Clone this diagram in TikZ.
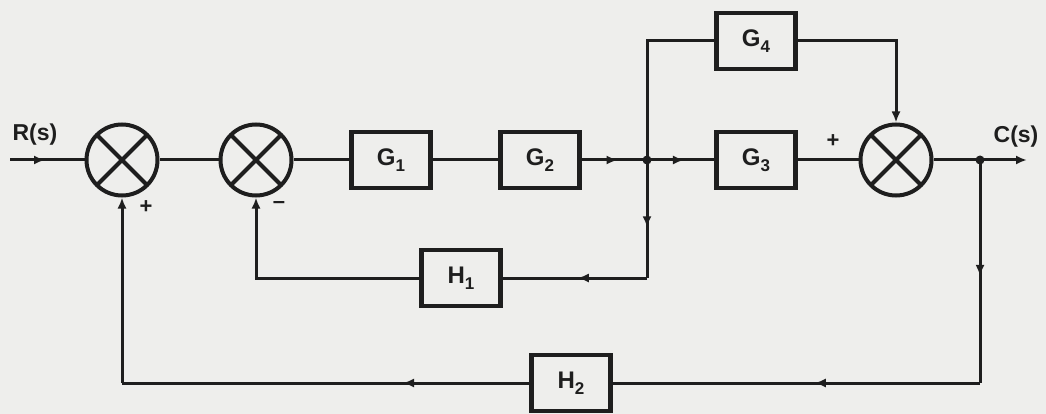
\documentclass[tikz,border=0pt]{standalone}
\usepackage{fontspec}
\setmainfont{Liberation Sans}
\usetikzlibrary{arrows.meta,decorations.markings,calc}
\definecolor{ink}{RGB}{30,30,30}
\definecolor{paper}{RGB}{238,238,236}
\newcommand\blab[2]{#1\raisebox{-6pt}{\fontsize{17}{17}\selectfont #2}}
\begin{document}
\begin{tikzpicture}[x=1pt,y=-1pt,
  every node/.style={text=ink},
  conn/.style={draw=ink,line width=3pt},
  blk/.style={draw=ink,line width=4.5pt,minimum width=79pt,minimum height=56pt,inner sep=0pt,font=\fontsize{24}{24}\selectfont\bfseries},
  sumnode/.style={circle,draw=ink,line width=4pt,minimum size=71pt,inner sep=0pt,
    path picture={\draw[ink,line width=4pt] (path picture bounding box.north west) -- (path picture bounding box.south east)
      (path picture bounding box.north east) -- (path picture bounding box.south west);}},
  jdot/.style={circle,fill=ink,inner sep=0pt,minimum size=9pt},
  tipend/.style={-{Latex[length=11pt,width=9pt]}},
  midarrow/.style={postaction={decorate},decoration={markings,mark=at position #1 with {\arrow{Latex[length=11pt,width=9pt]}}}},
  sig/.style={font=\fontsize{23}{23}\selectfont\bfseries},
  sgn/.style={font=\fontsize{22}{22}\selectfont\bfseries}
]
\fill[paper] (0,0) rectangle (1046,414);
\useasboundingbox (0,0) rectangle (1046,414);

% summing junctions
\node[sumnode] (S1) at (122,160) {};
\node[sumnode] (S2) at (256,160) {};
\node[sumnode] (S3) at (896,160) {};

% blocks
\node[blk] (G1) at (391,160) {\blab{G}{1}};
\node[blk] (G2) at (540,160) {\blab{G}{2}};
\node[blk] (G3) at (756,160) {\blab{G}{3}};
\node[blk] (G4) at (756,41) {\blab{G}{4}};
\node[blk] (H1) at (461,278) {\blab{H}{1}};
\node[blk] (H2) at (571,383) {\blab{H}{2}};

% junction points
\node[jdot] (J1) at (647,160) {};
\node[jdot] (J2) at (980,160) {};

% free ends and corners
\coordinate (Rin) at (10,160);
\coordinate (Cout) at (1027,160);
\coordinate (c1) at (980,383);
\coordinate (c2) at (122,383);
\coordinate (c3) at (647,278);
\coordinate (c4) at (256,278);
\coordinate (c5) at (647,41);
\coordinate (c6) at (896,41);

% labels
\node[sig] (Rl) at (35,135) {R(s)};
\node[sig] (Cl) at (1016,137) {C(s)};
\node[sgn] (p1) at (146,207) {+};
\node[sgn] (m2) at (279,205) {\textendash};
\node[sgn] (p3) at (833,141) {+};

% forward path
\draw[conn,midarrow=0.47] (Rin) -- (S1.west);
\draw[conn] (S1.east) -- (S2.west);
\draw[conn] (S2.east) -- (G1.west);
\draw[conn] (G1.east) -- (G2.west);
\draw[conn,midarrow=0.55] (G2.east) -- (J1.center);
\draw[conn,midarrow=0.55] (J1.center) -- (G3.west);
\draw[conn] (J1.center) -- (c5) -- (G4.west);
\draw[conn,tipend] (G4.east) -- (c6) -- (S3.north);
\draw[conn] (G3.east) -- (S3.west);
\draw[conn] (S3.east) -- (J2.center);
\draw[conn,tipend] (J2.center) -- (Cout);

% inner feedback H1
\draw[conn,midarrow=0.57] (J1.center) -- (c3);
\draw[conn,midarrow=0.48] (c3) -- (H1.east);
\draw[conn,tipend] (H1.west) -- (c4) -- (S2.south);

% outer feedback H2
\draw[conn,midarrow=0.52] (J2.center) -- (c1);
\draw[conn,midarrow=0.45] (c1) -- (H2.east);
\draw[conn,midarrow=0.31] (H2.west) -- (c2);
\draw[conn,tipend] (c2) -- (S1.south);
\end{tikzpicture}
\end{document}
